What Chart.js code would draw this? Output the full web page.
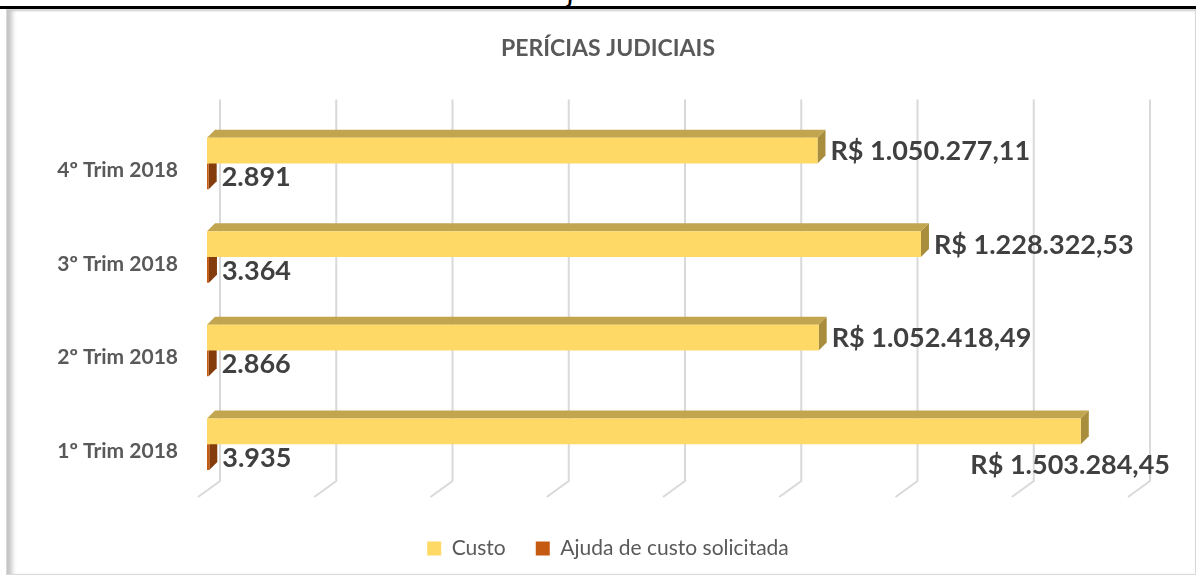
<!DOCTYPE html>
<html>
<head>
<meta charset="utf-8">
<script src="https://cdn.jsdelivr.net/npm/chart.js@4.4.1/dist/chart.umd.min.js"></script>
<style>
  body { margin: 0; width: 1196px; height: 576px; background: #fff; overflow: hidden; position: relative; font-family: Lato, sans-serif; }
  #topRule { position: absolute; left: 0; top: 6px; width: 1196px; height: 3px; background: #000; }
  #frag { position: absolute; left: 566px; top: 0; width: 16px; height: 6px; overflow: hidden; }
  #frag span { position: absolute; top: -19px; left: 2px; font: italic bold 22px Lato, sans-serif; color: #000; }
  #frame { position: absolute; left: 6px; top: 9px; width: 1188px; height: 564px; border: 1px solid #d9d9d9;
           box-shadow: inset 8px 0 5px -3px #c4c4c4, inset 0 2px 2px -1px #d0d0d0; }
  #chart { position: absolute; left: 0; top: 0; }
</style>
</head>
<body>
<div id="topRule"></div>
<div id="frag"><span>j</span></div>
<div id="frame"></div>
<canvas id="chart" width="1196" height="576"></canvas>
<script>
// categories / values
const trimestres = ['1º Trim 2018', '2º Trim 2018', '3º Trim 2018', '4º Trim 2018'];
const custo = [1503284.45, 1052418.49, 1228322.53, 1050277.11];
const ajudaCusto = [3935, 2866, 3364, 2891];
const xTicks = [0, 200000, 400000, 600000, 800000, 1000000, 1200000, 1400000, 1600000];

const DEPTH = 8;
const faceColors = [
  { top: '#C2A54F', side: '#A88E3C' },   // Custo
  { top: '#9E4710', side: '#843C0C' }    // Ajuda
];

function fmtBR(v, dec) {
  const parts = v.toFixed(dec).split('.');
  const intPart = parts[0].replace(/\B(?=(\d{3})+(?!\d))/g, '.');
  return dec ? intPart + ',' + parts[1] : intPart;
}

// back wall gridlines + 3D faces of the bars
const threeD = {
  id: 'threeD',
  beforeDatasetsDraw(chart) {
    const ctx = chart.ctx, area = chart.chartArea, xs = chart.scales.x;
    ctx.save();
    ctx.strokeStyle = '#d9d9d9';
    ctx.lineWidth = 2;
    xs.ticks.forEach(t => {
      const px = xs.getPixelForValue(t.value);
      ctx.beginPath();
      ctx.moveTo(px + 13, area.top - 17);
      ctx.lineTo(px + 13, area.bottom - 10);
      ctx.lineTo(px - 9, area.bottom + 6);
      ctx.stroke();
    });
    chart.data.datasets.forEach((ds, i) => {
      const meta = chart.getDatasetMeta(i);
      meta.data.forEach(bar => {
        const left = Math.min(bar.base, bar.x), right = Math.max(bar.base, bar.x);
        const top = bar.y - bar.height / 2, bottom = bar.y + bar.height / 2;
        ctx.fillStyle = faceColors[i].top;
        ctx.beginPath();
        ctx.moveTo(left, top);
        ctx.lineTo(right, top);
        ctx.lineTo(right + DEPTH, top - DEPTH);
        ctx.lineTo(left + DEPTH, top - DEPTH);
        ctx.closePath();
        ctx.fill();
        ctx.fillStyle = faceColors[i].side;
        ctx.beginPath();
        ctx.moveTo(right, top);
        ctx.lineTo(right + DEPTH, top - DEPTH);
        ctx.lineTo(right + DEPTH, bottom - DEPTH);
        ctx.lineTo(right, bottom);
        ctx.closePath();
        ctx.fill();
      });
    });
    ctx.restore();
  }
};

// value labels
const valueLabels = {
  id: 'valueLabels',
  afterDatasetsDraw(chart) {
    const ctx = chart.ctx;
    ctx.save();
    ctx.font = 'bold 27px Lato, sans-serif';
    ctx.fillStyle = '#404040';
    ctx.textBaseline = 'middle';
    chart.data.datasets.forEach((ds, i) => {
      const meta = chart.getDatasetMeta(i);
      meta.data.forEach((bar, j) => {
        const v = ds.data[j];
        const txt = i === 0 ? 'R$ ' + fmtBR(v, 2) : fmtBR(v, 0);
        const x = bar.x + DEPTH + 5;
        const w = ctx.measureText(txt).width;
        if (x + w > chart.width - 10) {
          ctx.textAlign = 'right';
          ctx.fillText(txt, chart.width - 26, bar.y + 34);
        } else {
          ctx.textAlign = 'left';
          ctx.fillText(txt, x, bar.y + 1);
        }
      });
    });
    ctx.restore();
  }
};

new Chart(document.getElementById('chart'), {
  type: 'bar',
  data: {
    labels: trimestres,
    datasets: [{
      label: 'Custo',
      data: custo,
      backgroundColor: '#FFD966',
      borderWidth: 0
    }, {
      label: 'Ajuda de custo solicitada',
      data: ajudaCusto,
      backgroundColor: '#C55A11',
      borderWidth: 0
    }]
  },
  options: {
    indexAxis: 'y',
    responsive: false,
    animation: false,
    barPercentage: 1.0,
    categoryPercentage: 0.55,
    layout: { padding: { left: 45, right: 25, top: 0, bottom: 7 } },
    scales: {
      x: {
        min: 0,
        max: 1600000,
        afterBuildTicks(scale) { scale.ticks = xTicks.map(v => ({ value: v })); },
        ticks: { display: false },
        grid: { display: false, drawTicks: false },
        border: { display: false },
        afterFit(scale) { scale.height = 17; }
      },
      y: {
        reverse: true,
        grid: { display: false, drawTicks: false },
        border: { display: false },
        ticks: {
          padding: 29,
          labelOffset: 7,
          color: '#595959',
          font: { family: 'Lato', size: 21, weight: 'bold' }
        },
        afterFit(scale) { scale.width = 162; }
      },
      // empty right-hand axis, only reserves room for the overflowing label
      yRight: {
        type: 'category',
        position: 'right',
        grid: { display: false, drawTicks: false },
        border: { display: false },
        ticks: { display: false },
        afterFit(scale) { scale.width = 34; }
      }
    },
    plugins: {
      title: {
        display: true,
        text: 'PERÍCIAS JUDICIAIS',
        color: '#595959',
        font: { family: 'Lato', size: 23, weight: 'bold' },
        padding: { top: 35, bottom: 54 }
      },
      legend: {
        position: 'bottom',
        labels: {
          boxWidth: 14,
          boxHeight: 14,
          padding: 30,
          color: '#595959',
          font: { family: 'Lato', size: 21 }
        }
      },
      tooltip: { enabled: false }
    }
  },
  plugins: [threeD, valueLabels]
});
</script>
</body>
</html>
